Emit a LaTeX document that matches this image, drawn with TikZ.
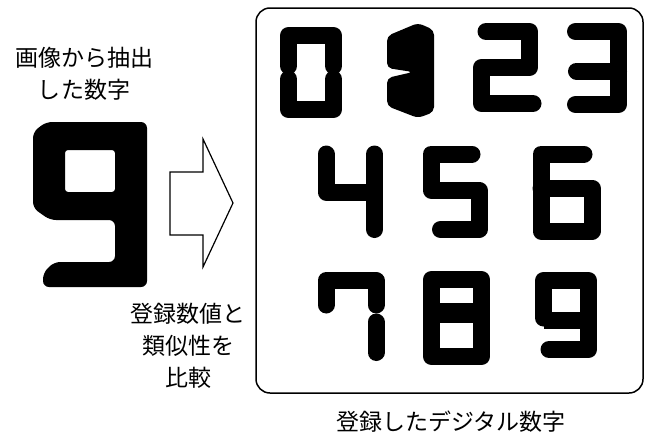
\documentclass[tikz,border=0pt]{standalone}
\usepackage{fontspec}
\newfontfamily\jpfont{Noto Sans CJK JP}
\begin{document}
\begin{tikzpicture}[x=1pt,y=-1pt,
  dig/.style={line width=17pt, line cap=round, line join=round},
  jp/.style={font=\jpfont\fontsize{23}{32}\selectfont, align=center, inner sep=0pt},
  frame/.style={line width=1.5pt, rounded corners=14pt},
  hollow/.style={line width=1.2pt, fill=white, line join=miter}]
\useasboundingbox (0,0) rectangle (645,439);

% texts
\node[jp] (src) at (84,74) {画像から抽出\\した数字};
\node[jp] (cmp) at (188,346) {登録数値と\\類似性を\\比較};
\node[jp] (cap) at (451,422) {登録したデジタル数字};

% big extracted 9
\fill[even odd rule]
  [rounded corners=6pt] (33,132) -- (46,122) -- (147,122) -- (147,287) -- (43,287) -- (43,273) -- (54,262) -- (115,262) -- (115,220) -- (50,220) -- (33,208) -- cycle
  [rounded corners=3pt] (65,150) rectangle (115,192);

% arrow
\draw[hollow] (170,172) -- (203,172) -- (203,139) -- (233,203) -- (203,267) -- (203,235) -- (170,235) -- cycle;

% frame
\draw[frame] (256,8) rectangle (643,393);

% 0
\draw[dig] (288.5,66) -- (288.5,35.5) -- (333.5,35.5) -- (333.5,66);
\draw[dig] (288.5,79) -- (288.5,109.5) -- (333.5,109.5) -- (333.5,79);
% 1
\fill[rounded corners=5pt] (387,36) -- (418,23) -- (434,30) -- (434,112) -- (418,118) -- (387,106) -- (387,78) -- (413,72) -- (387,68) -- cycle;
% 2
\draw[dig] (486,31.5) -- (529.5,31.5) -- (529.5,67.5) -- (481.5,67.5) -- (481.5,103.5) -- (533,103.5);
% 3
\draw[dig] (575.5,31.5) -- (618.5,31.5) -- (618.5,104.5) -- (575.5,104.5);
\draw[dig] (576.5,71) -- (618.5,71);
% 4
\draw[dig] (326,154) -- (326,192) -- (374,192);
\draw[dig] (374.5,154) -- (374.5,229.5);
% 5
\draw[dig] (472,154) -- (431,154) -- (431,190) -- (479,190) -- (479,229.5) -- (440.5,229.5);
% 6
\draw[dig] (584,154) -- (541,154) -- (541,231) -- (592,231) -- (592,188) -- (541,188);
% 7
\draw[dig] (326,305) -- (326,280.5) -- (376,280.5) -- (376,305);
\draw[dig] (376,322) -- (376,352.5);
% 8
\draw[dig] (431.5,279.5) -- (481.5,279.5) -- (481.5,356.5) -- (431.5,356.5) -- cycle;
\draw[dig,line width=20pt,line cap=butt] (431.5,312.5) -- (481.5,312.5);
% 9
\draw[dig] (543.5,318) -- (543.5,280.5) -- (588.5,280.5) -- (588.5,349.5) -- (549,349.5);
\draw[dig,line cap=butt] (543.5,320) -- (588.5,320);
\end{tikzpicture}
\end{document}
